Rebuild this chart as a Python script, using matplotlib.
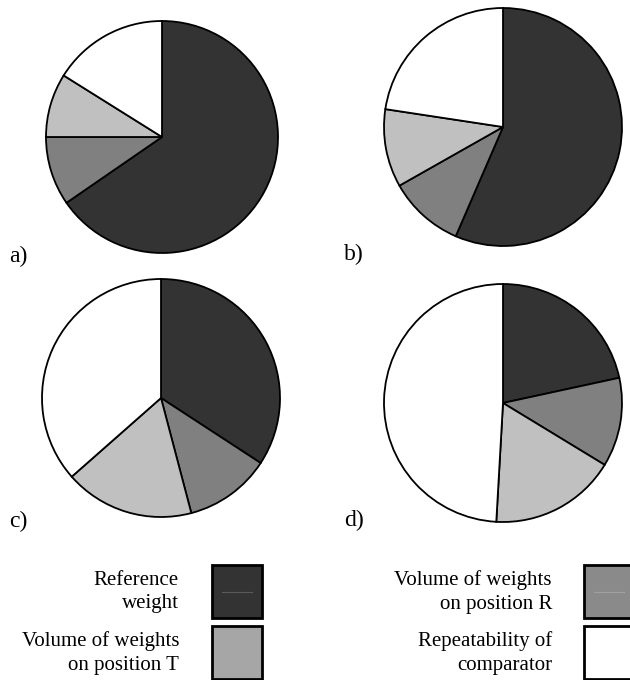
import matplotlib
matplotlib.use("Agg")
import matplotlib.pyplot as plt
from matplotlib.patches import Rectangle

plt.rcParams['font.family'] = ['Liberation Serif', 'DejaVu Serif']

# shares (%) of the four uncertainty contributions
componentes = ['Reference\nweight', 'Volume of weights\non position R',
               'Volume of weights\non position T', 'Repeatability of\ncomparator']
pie_a = [65.4, 9.6, 8.9, 16.1]
pie_b = [56.5, 10.3, 10.6, 22.6]
pie_c = [34.2, 11.7, 17.6, 36.5]
pie_d = [21.6, 12.1, 17.2, 49.1]
rotulos = ['a)', 'b)', 'c)', 'd)']

cores_pie = ['#333333', '#808080', '#c0c0c0', '#ffffff']
cores_legenda = ['#333333', '#8a8a8a', '#a6a6a6', '#ffffff']

W, H = 630, 680
fig = plt.figure(figsize=(W / 100, H / 100), dpi=100)
ax = fig.add_axes([0, 0, 1, 1])

# centro (px, origem em cima) e raio de cada pizza
posicoes = [(162, 137, 116), (503, 127, 119), (161, 398, 119), (503, 403, 119)]
pos_rotulos = [(9, 256), (344, 254), (9, 521), (344, 520)]

for valores, (cx, cy, r), rot, (lx, ly) in zip([pie_a, pie_b, pie_c, pie_d],
                                               posicoes, rotulos, pos_rotulos):
    ax.pie(valores, colors=cores_pie, startangle=90, counterclock=False,
           center=(cx, H - cy), radius=r, frame=True,
           wedgeprops=dict(edgecolor='black', linewidth=1.3))
    ax.text(lx, H - ly, rot, fontsize=17, ha='left', va='center')

# legenda desenhada a mão (texto à esquerda da caixa)
legenda_pos = [(179, 212, 565), (552, 584, 565), (179, 212, 626), (552, 584, 626)]
for nome, cor, (tx, bx, by) in zip(componentes, cores_legenda, legenda_pos):
    ax.add_patch(Rectangle((bx, H - by - 53), 50, 53, facecolor=cor,
                           edgecolor='black', linewidth=2, clip_on=False))
    if by == 565:
        ax.plot([bx + 10, bx + 40], [H - by - 26.5] * 2, color='#5a5a5a' if cor == '#333333' else '#a0a0a0',
                linewidth=0.8)
    ax.text(tx, H - by - 27, nome, fontsize=15, ha='right', va='center',
            multialignment='right', linespacing=1.3)

ax.set_xlim(0, W)
ax.set_ylim(0, H)
ax.set_aspect('equal')
ax.axis('off')

plt.savefig('out.png', dpi=100)
